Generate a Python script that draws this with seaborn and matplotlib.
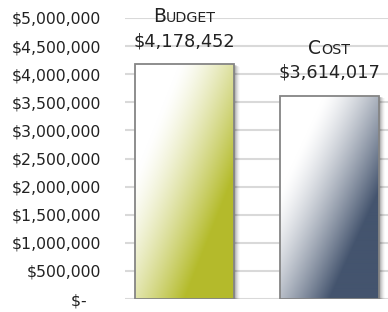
import numpy as np
import matplotlib
matplotlib.use("Agg")
import matplotlib.pyplot as plt
from matplotlib.patches import Rectangle
from matplotlib.offsetbox import TextArea, HPacker, AnnotationBbox
import matplotlib.colors as mcolors
import seaborn as sns

categories = ["Budget", "Cost"]
values = [4178452, 3614017]
full_colors = ["#b4bb2b", "#44546e"]
y_ticks = [0, 500000, 1000000, 1500000, 2000000, 2500000, 3000000,
           3500000, 4000000, 4500000, 5000000]

sns.set_theme(style="white")
plt.rcParams['font.family'] = ['DejaVu Sans']

W, H = 388, 312
fig = plt.figure(figsize=(W / 100, H / 100), dpi=100)
ax = fig.add_axes([125 / W, 1 - 299 / H, 1 - 125 / W, (299 - 18) / H])

sns.barplot(x=categories, y=values, ax=ax, width=0.685, color="white",
            edgecolor="#858585", linewidth=1.3, zorder=3)
ax.set_xlim(-0.412, 1.408)
ax.set_ylim(0, 5000000)
ax.set_axisbelow(True)
ax.set_yticks(y_ticks)
ax.yaxis.grid(True, color="#d9d9d9", linewidth=1.5)
ax.xaxis.grid(False)
for s in ax.spines.values():
    s.set_visible(False)
ax.set_xticks([])
ax.set_xlabel("")
ax.set_ylabel("")

def fmt(v):
    return "$-   " if v == 0 else "${:,.0f}".format(v)
ax.set_yticklabels([fmt(v) for v in y_ticks], fontsize=11.3, color="#222222")
ax.tick_params(axis="y", length=0, pad=17)

px_x = 1.82 / (W - 125)       # data units per px in x
px_y = 5000000 / 281.0        # data units per px in y

for patch, col in zip(ax.patches, full_colors):
    x0 = patch.get_x()
    w = patch.get_width()
    h = patch.get_height()
    # soft shadow
    for k, a in zip([1, 2, 3, 4, 5, 6], [0.12, 0.10, 0.08, 0.06, 0.04, 0.025]):
        ax.add_patch(Rectangle((x0 + k * px_x, -k * px_y * 0.3), w,
                               h - k * px_y * 0.1,
                               facecolor="#000000", alpha=a, edgecolor="none",
                               zorder=2))
    wp = int(round(w / px_x))
    hp = int(round(h / px_y))
    u = (np.arange(wp) / (wp - 1))[None, :]
    v = (np.arange(hp) / (hp - 1))[:, None]
    s = np.clip((u + 0.95 * v - 0.45) / 1.0, 0, 1)
    t = s ** 1.35
    rgb = np.array(mcolors.to_rgb(col))
    img = (1 - t)[..., None] * np.ones(3) + t[..., None] * rgb
    im = ax.imshow(img, extent=[x0, x0 + w, 0, h], origin="upper",
                   aspect="auto", zorder=3.5, interpolation="bilinear")
    im.set_clip_path(patch)
    patch.set_facecolor("none")
    patch.set_zorder(4)

for i, (c, v) in enumerate(zip(categories, values)):
    ax.annotate("${:,.0f}".format(v), (i, v), xytext=(0, 13),
                textcoords="offset points", ha="center", va="baseline",
                fontsize=12.8, color="#222222", zorder=6)
    first = TextArea(c[0].upper(), textprops=dict(fontsize=13.5, color="#222222"))
    rest = TextArea(c[1:].upper(), textprops=dict(fontsize=10.3, color="#222222"))
    line1 = HPacker(children=[first, rest], align="baseline", pad=0, sep=0.3)
    ab = AnnotationBbox(line1, (i, v), xybox=(0, 27.5), xycoords="data",
                        boxcoords="offset points", box_alignment=(0.5, 0),
                        frameon=False, pad=0, zorder=6)
    ax.add_artist(ab)

fig.savefig("out.png", dpi=100)
